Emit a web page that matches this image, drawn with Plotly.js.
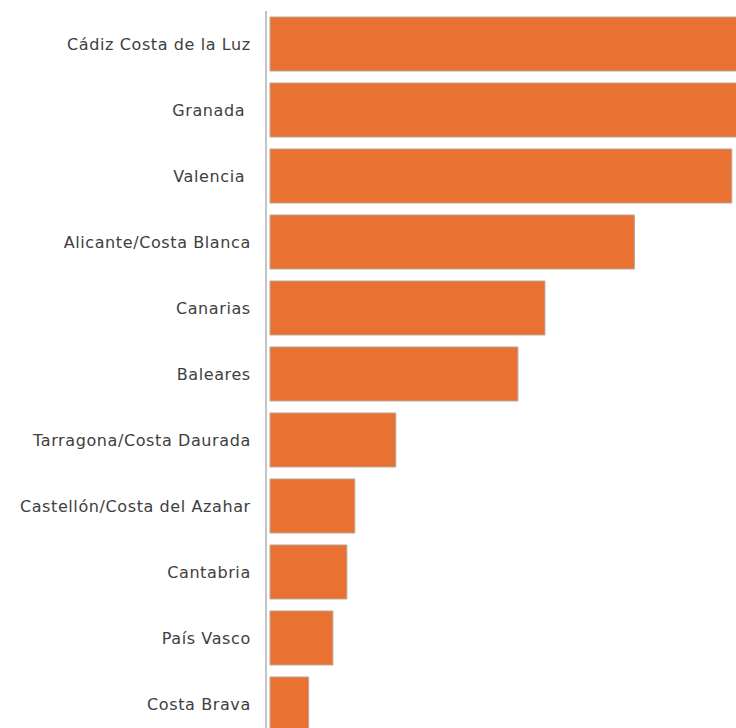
<!DOCTYPE html>
<html>
<head>
<meta charset="utf-8">
<script src="https://cdn.plot.ly/plotly-3.0.1.min.js"></script>
<style>
html,body{margin:0;padding:0;background:#fff;}
#chart{width:736px;height:728px;}
#chart .ytick text{letter-spacing:0.6px;}
</style>
</head>
<body>
<div id="chart"></div>
<script>
const categories = [
  "Cádiz Costa de la Luz",
  "Granada ",
  "Valencia ",
  "Alicante/Costa Blanca",
  "Canarias",
  "Baleares",
  "Tarragona/Costa Daurada",
  "Castellón/Costa del Azahar",
  "Cantabria",
  "País Vasco",
  "Costa Brava"
];
const values = [105, 103, 99.1, 78.2, 59.0, 53.2, 27.0, 18.2, 16.5, 13.5, 8.3];

const trace = {
  type: "bar",
  orientation: "h",
  x: values,
  y: categories,
  width: 0.818,
  marker: {color: "#E97132", line: {color: "#b8a898", width: 1}},
  hoverinfo: "x+y"
};

const layout = {
  width: 736,
  height: 728,
  margin: {l: 267, r: 0, t: 11, b: 0, pad: 0},
  paper_bgcolor: "#ffffff",
  plot_bgcolor: "#ffffff",
  showlegend: false,
  font: {family: "DejaVu Sans, sans-serif", size: 16, color: "#404040"},
  xaxis: {
    range: [-0.644, 100],
    showgrid: false, zeroline: false, showticklabels: false, showline: false, ticks: ""
  },
  yaxis: {
    type: "category",
    range: [10.364, -0.5],
    showgrid: false, zeroline: false,
    showline: true, linecolor: "#c4c4c4", linewidth: 2,
    ticks: "", ticklabelstandoff: 11,
    tickfont: {family: "DejaVu Sans, sans-serif", size: 16, color: "#404040"}
  }
};

Plotly.newPlot("chart", [trace], layout, {staticPlot: true, displayModeBar: false});
</script>
</body>
</html>
